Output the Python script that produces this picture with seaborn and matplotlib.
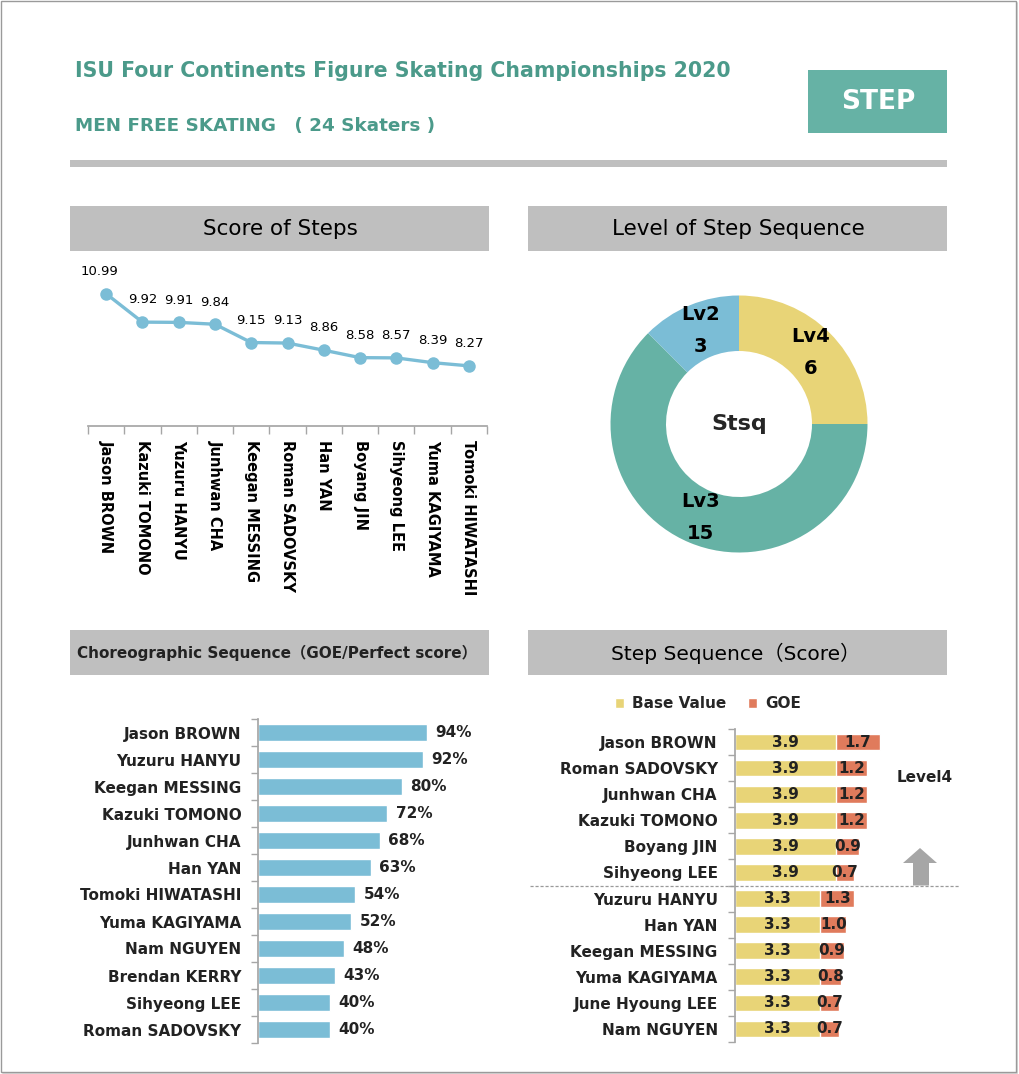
import matplotlib
matplotlib.use("Agg")
import matplotlib.pyplot as plt
from matplotlib.patches import Rectangle, Polygon, Patch
from matplotlib.lines import Line2D
import seaborn as sns
import pandas as pd

# ---------------- data ----------------
title_text = "ISU Four Continents Figure Skating Championships 2020"
subtitle_text = "MEN FREE SKATING　( 24 Skaters )"
badge_text = "STEP"

steps_names = ["Jason BROWN", "Kazuki TOMONO", "Yuzuru HANYU", "Junhwan CHA",
               "Keegan MESSING", "Roman SADOVSKY", "Han YAN", "Boyang JIN",
               "Sihyeong LEE", "Yuma KAGIYAMA", "Tomoki HIWATASHI"]
steps_scores = [10.99, 9.92, 9.91, 9.84, 9.15, 9.13, 8.86, 8.58, 8.57, 8.39, 8.27]

level_labels = ["Lv4", "Lv3", "Lv2"]
level_counts = [6, 15, 3]
donut_center_label = "Stsq"

choreo_names = ["Jason BROWN", "Yuzuru HANYU", "Keegan MESSING", "Kazuki TOMONO",
                "Junhwan CHA", "Han YAN", "Tomoki HIWATASHI", "Yuma KAGIYAMA",
                "Nam NGUYEN", "Brendan KERRY", "Sihyeong LEE", "Roman SADOVSKY"]
choreo_pct = [94, 92, 80, 72, 68, 63, 54, 52, 48, 43, 40, 40]

stsq_names = ["Jason BROWN", "Roman SADOVSKY", "Junhwan CHA", "Kazuki TOMONO",
              "Boyang JIN", "Sihyeong LEE", "Yuzuru HANYU", "Han YAN",
              "Keegan MESSING", "Yuma KAGIYAMA", "June Hyoung LEE", "Nam NGUYEN"]
stsq_base = [3.9, 3.9, 3.9, 3.9, 3.9, 3.9, 3.3, 3.3, 3.3, 3.3, 3.3, 3.3]
stsq_goe = [1.7, 1.2, 1.2, 1.2, 0.9, 0.7, 1.3, 1.0, 0.9, 0.8, 0.7, 0.7]
level4_count = 6

# ---------------- style ----------------
TEAL = "#4b9a8a"
TEAL_BOX = "#66b2a5"
GREY = "#bfbfbf"
BLUE = "#7bbdd6"
YELLOW = "#e8d477"
SALMON = "#e07b5c"
AXGREY = "#a6a6a6"

sns.set_theme(style="white")
plt.rcParams["font.family"] = ["DejaVu Sans", "Noto Sans CJK JP"]

W, H = 1019, 1074
fig = plt.figure(figsize=(W / 100, H / 100), dpi=100)
fig.patch.set_facecolor("white")


def rect_px(x0, y0, x1, y1):
    return [x0 / W, 1 - y1 / H, (x1 - x0) / W, (y1 - y0) / H]


def fx(x):
    return x / W


def fy(y):
    return 1 - y / H


def box(x0, y0, x1, y1, color):
    fig.add_artist(Rectangle((fx(x0), fy(y1)), (x1 - x0) / W, (y1 - y0) / H,
                             transform=fig.transFigure, facecolor=color,
                             edgecolor="none", zorder=0))


# outer frame
fig.add_artist(Rectangle((fx(1), fy(1072)), 1015 / W, 1071 / H, transform=fig.transFigure,
                         facecolor="none", edgecolor="#9a9a9a", lw=1.0, zorder=10))
fig.add_artist(Line2D([fx(1017), fx(1017)], [fy(3), fy(1073)], transform=fig.transFigure,
                      color="#d0d0d0", lw=1.2))
fig.add_artist(Line2D([fx(3), fx(1017)], [fy(1073), fy(1073)], transform=fig.transFigure,
                      color="#d0d0d0", lw=1.2))

# header
fig.text(fx(75), fy(71), title_text, color=TEAL, fontsize=14.8, fontweight="bold",
         ha="left", va="center")
fig.text(fx(75), fy(126), subtitle_text, color=TEAL, fontsize=13.2, fontweight="bold",
         ha="left", va="center")
box(808, 70, 947, 133, TEAL_BOX)
fig.text(fx(878), fy(102), badge_text, color="white", fontsize=19, fontweight="bold",
         ha="center", va="center")
box(70, 160, 947, 167, GREY)

# panel headers
box(70, 206, 489, 251, GREY)
fig.text(fx(280), fy(229), "Score of Steps", fontsize=15.5, ha="center", va="center", color="black")
box(528, 206, 947, 251, GREY)
fig.text(fx(738), fy(229), "Level of Step Sequence", fontsize=15.5, ha="center", va="center", color="black")
box(70, 630, 489, 675, GREY)
fig.text(fx(277), fy(653), "Choreographic Sequence（GOE/Perfect score）", fontsize=11,
         fontweight="bold", ha="center", va="center", color="#222222")
box(528, 630, 947, 675, GREY)
fig.text(fx(736), fy(653), "Step Sequence（Score）", fontsize=14.5, ha="center", va="center", color="black")

# ---------------- Score of Steps (line) ----------------
ax1 = fig.add_axes(rect_px(88, 267, 487, 426))
df_steps = pd.DataFrame({"name": steps_names, "score": steps_scores})
df_steps["pos"] = range(len(df_steps))
sns.lineplot(data=df_steps, x="pos", y="score", ax=ax1, color=BLUE, lw=2.4,
             marker="o", markersize=9, markeredgewidth=0, sort=False)
for p, v in zip(df_steps["pos"], df_steps["score"]):
    ax1.annotate(f"{v:.2f}", (p, v), xytext=(-5 if p == 0 else 0, 16), textcoords="offset points",
                 ha="center", va="center", fontsize=9.5, color="black")
ax1.set_xlim(-0.5, len(steps_names) - 0.5)
ax1.set_ylim(6, 12)
ax1.set_xticks(range(len(steps_names)))
ax1.set_xticklabels(steps_names, rotation=270, fontsize=10.5, fontweight="bold", color="black")
ax1.set_xticks([i - 0.5 for i in range(len(steps_names) + 1)], minor=True)
ax1.tick_params(axis="x", which="major", length=0, pad=10)
ax1.tick_params(axis="x", which="minor", length=6, color=AXGREY, width=1, direction="out", bottom=True)
ax1.set_yticks([])
ax1.set_xlabel("")
ax1.set_ylabel("")
for s in ["top", "right", "left"]:
    ax1.spines[s].set_visible(False)
ax1.spines["bottom"].set_color(AXGREY)
ax1.patch.set_alpha(0)

# ---------------- Level donut ----------------
R = 128.5
ax2 = fig.add_axes(rect_px(739 - 150, 424 - 150, 739 + 150, 424 + 150))
wedges, texts = ax2.pie(level_counts, colors=[YELLOW, TEAL_BOX, BLUE], startangle=90,
                        counterclock=False, radius=R / 150,
                        wedgeprops=dict(width=(R - 73) / 150, edgecolor="none"),
                        labels=[f"{l}\n{c}" for l, c in zip(level_labels, level_counts)],
                        labeldistance=0.785,
                        textprops=dict(fontsize=14, fontweight="bold", color="black",
                                       linespacing=1.85))
for t in texts:
    t.set_ha("center")
    t.set_va("center")
ax2.text(0, 0, donut_center_label, ha="center", va="center", fontsize=16, fontweight="bold")
ax2.set_xlim(-1, 1)
ax2.set_ylim(-1, 1)
ax2.set_aspect("equal")
ax2.axis("off")

# ---------------- Choreographic sequence (barh) ----------------
ax3 = fig.add_axes(rect_px(258, 719, 489, 1043))
df_ch = pd.DataFrame({"name": choreo_names, "pct": choreo_pct})
sns.barplot(data=df_ch, x="pct", y="name", orient="y", ax=ax3, color=BLUE,
            saturation=1, width=0.63, errorbar=None)
ax3.bar_label(ax3.containers[0], labels=[f"{v}%" for v in choreo_pct], padding=6,
              fontsize=11, fontweight="bold", color="#222222")
ax3.set_xlim(0, 128.6)
ax3.set_ylim(len(choreo_names) - 0.5, -0.5)
ax3.set_xticks([])
ax3.set_yticks(range(len(choreo_names)))
ax3.set_yticklabels(choreo_names, fontsize=11, fontweight="bold", color="#222222")
ax3.set_yticks([i - 0.5 for i in range(len(choreo_names) + 1)], minor=True)
ax3.tick_params(axis="y", which="major", length=0, pad=12)
ax3.tick_params(axis="y", which="minor", length=5, color=AXGREY, width=1, left=True)
ax3.set_xlabel("")
ax3.set_ylabel("")
for s in ["top", "right", "bottom"]:
    ax3.spines[s].set_visible(False)
ax3.spines["left"].set_color(AXGREY)
ax3.patch.set_alpha(0)

# ---------------- Step sequence (stacked barh) ----------------
ax4 = fig.add_axes(rect_px(735, 729, 947, 1042))
df_st = pd.DataFrame({"name": stsq_names, "base": stsq_base, "goe": stsq_goe})
df_st["total"] = df_st["base"] + df_st["goe"]
sns.barplot(data=df_st, x="total", y="name", orient="y", ax=ax4, color=SALMON,
            saturation=1, width=0.64, errorbar=None)
sns.barplot(data=df_st, x="base", y="name", orient="y", ax=ax4, color=YELLOW,
            saturation=1, width=0.64, errorbar=None)
ax4.bar_label(ax4.containers[1], labels=[f"{v:.1f}" for v in stsq_base], label_type="center",
              fontsize=11, fontweight="bold", color="#222222")
for i, (b, g) in enumerate(zip(stsq_base, stsq_goe)):
    ax4.text(b + g / 2, i, f"{g:.1f}", ha="center", va="center", fontsize=11,
             fontweight="bold", color="#222222")
ax4.set_xlim(0, 8.19)
ax4.set_ylim(len(stsq_names) - 0.5, -0.5)
ax4.set_xticks([])
ax4.set_yticks(range(len(stsq_names)))
ax4.set_yticklabels(stsq_names, fontsize=11, fontweight="bold", color="#222222")
ax4.set_yticks([i - 0.5 for i in range(len(stsq_names) + 1)], minor=True)
ax4.tick_params(axis="y", which="major", length=0, pad=12.5)
ax4.tick_params(axis="y", which="minor", length=5, color=AXGREY, width=1, left=True)
ax4.set_xlabel("")
ax4.set_ylabel("")
for s in ["top", "right", "bottom"]:
    ax4.spines[s].set_visible(False)
ax4.spines["left"].set_color(AXGREY)
ax4.patch.set_alpha(0)

# level-4 separator (between row level4_count-1 and level4_count)
sep_y = 729 + (1042 - 729) * level4_count / len(stsq_names)
fig.add_artist(Line2D([fx(530), fx(960)], [fy(sep_y), fy(sep_y)], transform=fig.transFigure,
                      color="#9a9a9a", lw=0.9, ls=(0, (2.5, 1.5))))
fig.text(fx(925), fy(777), "Level4", fontsize=11, fontweight="bold", ha="center", va="center",
         color="#222222")
arrow_pts = [(913, sep_y), (929, sep_y), (929, 863), (937, 863), (920, 848), (903, 863), (913, 863)]
fig.add_artist(Polygon([(fx(x), fy(y)) for x, y in arrow_pts], closed=True,
                       transform=fig.transFigure, facecolor=AXGREY, edgecolor="none"))

# legend
fig.legend(handles=[Patch(facecolor=YELLOW, label="Base Value"),
                    Patch(facecolor=SALMON, label="GOE")],
           loc="center", bbox_to_anchor=(fx(708), fy(704)), ncol=2, frameon=False,
           handlelength=0.6, handleheight=0.6, handletextpad=0.5, columnspacing=1.45,
           prop=dict(size=11, weight="bold"))

fig.savefig("out.png", dpi=100)
